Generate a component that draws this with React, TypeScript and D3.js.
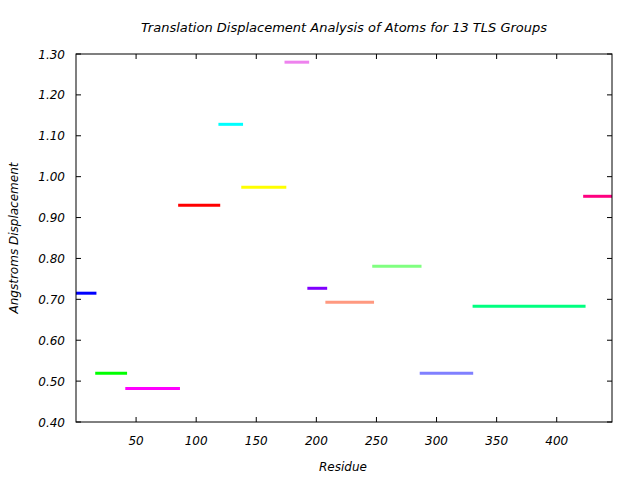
import React from "react";
import * as d3 from "d3";

const groupStart = [0, 16, 41, 85, 118.5, 137.5, 173.5, 192.5, 207.5, 246.5, 286, 330, 422];
const groupEnd = [17, 42.5, 86.5, 120, 139, 175, 194, 209, 248, 287.5, 330.5, 424, 446];
const groupValue = [0.715, 0.519, 0.482, 0.930, 1.128, 0.974, 1.280, 0.727, 0.693, 0.781, 0.519, 0.683, 0.952];
const groupColor = ["#0000ff", "#00ff00", "#ff00ff", "#ff0000", "#00ffff", "#ffff00", "#ee82ee", "#8000ff", "#ff9980", "#80ff80", "#8080ff", "#00ff80", "#ff0080"];
const xTicks = [50, 100, 150, 200, 250, 300, 350, 400];
const yTicks = [0.4, 0.5, 0.6, 0.7, 0.8, 0.9, 1.0, 1.1, 1.2, 1.3];

const W = 640, H = 480;
const L = 76, R = 612, T = 54, B = 422;
const font = "'DejaVu Sans', sans-serif";

export default function App() {
  const x = d3.scaleLinear().domain([0, 446]).range([L, R]);
  const y = d3.scaleLinear().domain([0.4, 1.3]).range([B, T]);
  const tl = 5;
  return (
    <svg width={W} height={H} style={{ position: "absolute", left: 0, top: 0, background: "#fff" }}>
      <rect x={0} y={0} width={W} height={H} fill="#fff" />
      <text x={344} y={32} textAnchor="middle" fontFamily={font} fontStyle="italic" fontSize={13}>
        Translation Displacement Analysis of Atoms for 13 TLS Groups
      </text>
      {groupValue.map((v, i) => (
        <line key={i} x1={x(groupStart[i])} x2={x(groupEnd[i])} y1={y(v)} y2={y(v)} stroke={groupColor[i]} strokeWidth={3} />
      ))}
      {xTicks.map((t) => (
        <g key={"x" + t}>
          <line x1={x(t)} x2={x(t)} y1={B} y2={B - tl} stroke="#000" strokeWidth={1} />
          <line x1={x(t)} x2={x(t)} y1={T} y2={T + tl} stroke="#000" strokeWidth={1} />
          <text x={x(t)} y={445} textAnchor="middle" fontFamily={font} fontStyle="italic" fontSize={12}>{t}</text>
        </g>
      ))}
      {yTicks.map((t) => (
        <g key={"y" + t}>
          <line x1={L} x2={L + tl} y1={y(t)} y2={y(t)} stroke="#000" strokeWidth={1} />
          <line x1={R} x2={R - tl} y1={y(t)} y2={y(t)} stroke="#000" strokeWidth={1} />
          <text x={65} y={y(t) + 4.5} textAnchor="end" fontFamily={font} fontStyle="italic" fontSize={12}>{t.toFixed(2)}</text>
        </g>
      ))}
      <rect x={L} y={T} width={R - L} height={B - T} fill="none" stroke="#000" strokeWidth={1} />
      <text x={343} y={471} textAnchor="middle" fontFamily={font} fontStyle="italic" fontSize={12}>Residue</text>
      <text transform={`translate(18,${(T + B) / 2}) rotate(-90)`} textAnchor="middle" fontFamily={font} fontStyle="italic" fontSize={12}>
        Angstroms Displacement
      </text>
    </svg>
  );
}
